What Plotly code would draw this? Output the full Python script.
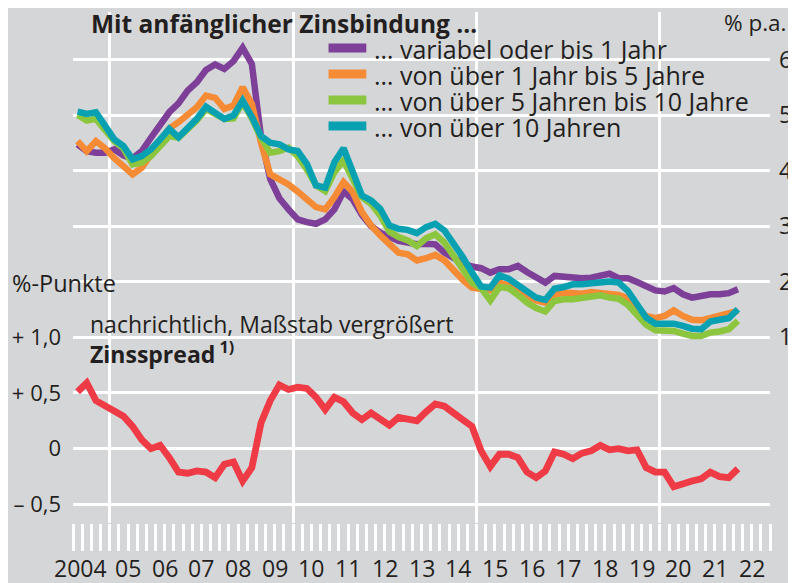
import plotly.graph_objects as go

# ---------------- data ----------------
start_year = 2004
n_quarters = 73  # 2004 Q1 ... 2022 Q1
year_labels = ["2004", "05", "06", "07", "08", "09", "10", "11", "12", "13",
               "14", "15", "16", "17", "18", "19", "20", "21", "22"]
years = list(range(2004, 2023))

series_names = ["… variabel oder bis 1 Jahr",
                "… von über 1 Jahr bis 5 Jahre",
                "… von über 5 Jahren bis 10 Jahre",
                "… von über 10 Jahren"]

variabel = [4.47, 4.35, 4.32, 4.32, 4.38, 4.27, 4.22, 4.35, 4.59, 4.84,
            5.05, 5.21, 5.44, 5.59, 5.81, 5.91, 5.83, 5.97, 6.21, 5.92,
            4.60, 3.85, 3.50, 3.30, 3.12, 3.07, 3.04, 3.12, 3.30, 3.62,
            3.48, 3.20, 3.00, 2.88, 2.80, 2.73, 2.70, 2.67, 2.68, 2.67,
            2.52, 2.42, 2.33, 2.27, 2.24, 2.16, 2.22, 2.22, 2.28, 2.17,
            2.08, 1.98, 2.10, 2.08, 2.06, 2.06, 2.07, 2.10, 2.14, 2.06,
            2.06, 1.99, 1.90, 1.84, 1.82, 1.88, 1.77, 1.71, 1.74, 1.77,
            1.77, 1.79, 1.86]

bis5 = [4.53, 4.35, 4.53, 4.40, 4.22, 4.08, 3.93, 4.05, 4.29, 4.56,
        4.76, 4.87, 4.99, 5.14, 5.35, 5.31, 5.11, 5.17, 5.50, 5.20,
        4.50, 3.93, 3.84, 3.75, 3.62, 3.47, 3.34, 3.30, 3.52, 3.79,
        3.61, 3.25, 3.01, 2.83, 2.66, 2.52, 2.49, 2.38, 2.42, 2.48,
        2.38, 2.20, 2.03, 1.89, 1.85, 1.84, 1.98, 1.93, 1.84, 1.74,
        1.66, 1.62, 1.76, 1.80, 1.79, 1.78, 1.81, 1.80, 1.78, 1.76,
        1.70, 1.50, 1.38, 1.34, 1.38, 1.48, 1.38, 1.31, 1.30, 1.34,
        1.36, 1.40, 1.47]

bis10 = [5.00, 4.90, 4.93, 4.71, 4.53, 4.40, 4.11, 4.14, 4.26, 4.44,
         4.62, 4.59, 4.75, 4.90, 5.11, 5.03, 4.93, 4.94, 5.23, 4.94,
         4.59, 4.32, 4.35, 4.41, 4.26, 4.02, 3.73, 3.63, 3.97, 4.18,
         3.85, 3.52, 3.40, 3.19, 2.90, 2.80, 2.74, 2.64, 2.78, 2.85,
         2.70, 2.46, 2.19, 1.98, 1.88, 1.66, 1.90, 1.88, 1.76, 1.62,
         1.52, 1.46, 1.65, 1.68, 1.68, 1.70, 1.72, 1.75, 1.71, 1.69,
         1.58, 1.40, 1.22, 1.12, 1.12, 1.11, 1.06, 1.02, 1.02, 1.08,
         1.10, 1.14, 1.29]

ueber10 = [5.06, 5.02, 5.05, 4.81, 4.56, 4.44, 4.20, 4.26, 4.38, 4.56,
           4.75, 4.60, 4.75, 4.93, 5.15, 5.05, 4.93, 4.99, 5.26, 4.97,
           4.62, 4.50, 4.47, 4.38, 4.35, 4.12, 3.73, 3.69, 4.15, 4.40,
           3.97, 3.55, 3.46, 3.31, 3.01, 2.95, 2.93, 2.87, 2.98, 3.04,
           2.92, 2.70, 2.44, 2.16, 1.91, 1.89, 2.11, 2.05, 1.94, 1.82,
           1.71, 1.67, 1.87, 1.90, 1.95, 1.95, 1.96, 1.98, 2.00, 1.98,
           1.83, 1.59, 1.35, 1.24, 1.25, 1.24, 1.20, 1.15, 1.14, 1.28,
           1.31, 1.34, 1.50]

spread = [0.51, 0.59, 0.43, 0.38, 0.34, 0.29, 0.20, 0.08, 0.00, 0.03,
          -0.08, -0.21, -0.22, -0.20, -0.21, -0.26, -0.14, -0.12, -0.29, -0.17,
          0.23, 0.43, 0.57, 0.53, 0.55, 0.54, 0.46, 0.35, 0.46, 0.42,
          0.32, 0.26, 0.32, 0.27, 0.21, 0.28, 0.26, 0.25, 0.33, 0.40,
          0.38, 0.31, 0.26, 0.20, -0.02, -0.16, -0.05, -0.05, -0.08, -0.21,
          -0.26, -0.20, -0.03, -0.05, -0.09, -0.04, -0.02, 0.03, -0.01, 0.00,
          -0.02, -0.01, -0.17, -0.21, -0.21, -0.34, -0.31, -0.29, -0.27, -0.21,
          -0.25, -0.26, -0.18]

rate_ticks = [1, 2, 3, 4, 5, 6]
spread_ticks = [-0.5, 0, 0.5, 1.0]
spread_ticktext = ["\u2013 0,5", "0", "+ 0,5", "+ 1,0"]

# quarter mid-points as decimal years
quarter_x = [start_year + (k + 0.5) / 4 for k in range(n_quarters)]
quarter_ticks = [start_year + q / 4 for q in range(4 * len(years) + 1)]

# ---------------- styling ----------------
BG = "#d5d6d8"
TXT = "#231f20"
FONT = "Open Sans"
colors = ["#7d3f98", "#f58b35", "#8cc63f", "#08a1b1"]
RED = "#ee3b45"

# page offset (browser body margin) and plot-area geometry in screen pixels
OFF = 8
PL, PR, PT, PB = 71, 772, 12, 523


def px(sx):
    return (sx - PL) / (PR - PL)


def py(sy):
    return (PB - sy) / (PB - PT)


fig = go.Figure()
for name, vals, col in zip(series_names, [variabel, bis5, bis10, ueber10], colors):
    fig.add_trace(go.Scatter(x=quarter_x, y=vals, name=name, mode="lines",
                             line=dict(color=col, width=6.5), yaxis="y",
                             showlegend=False, hoverinfo="skip"))
fig.add_trace(go.Scatter(x=quarter_x, y=spread, name="Zinsspread", mode="lines",
                         line=dict(color=RED, width=6.8), yaxis="y2",
                         showlegend=False, hoverinfo="skip"))

fig.update_layout(
    width=796 - OFF, height=583 - OFF,
    paper_bgcolor=BG, plot_bgcolor=BG,
    margin=dict(l=PL - OFF, r=796 - PR, t=PT - OFF, b=583 - PB),
    font=dict(family=FONT, color=TXT, size=23),
    showlegend=False,
    xaxis=dict(range=[2004, 2023], tickmode="array",
               tickvals=[2005, 2010, 2015, 2020],
               showgrid=True, gridcolor="white", gridwidth=2.5,
               ticks="outside", ticklen=27, tickwidth=2.5, tickcolor="white",
               showticklabels=False, zeroline=False, showline=False,
               minor=dict(tickvals=quarter_ticks, ticks="outside", ticklen=27,
                          tickwidth=2.5, tickcolor="white", showgrid=False)),
    yaxis=dict(range=[1 - (PB - 337) / 55.5, 1 + (337 - PT) / 55.5],
               side="right", tickmode="array",
               tickvals=rate_ticks, ticktext=[str(t) for t in rate_ticks],
               showgrid=True, gridcolor="white", gridwidth=2.5,
               zeroline=False, showline=False, ticks="",
               ticklabelstandoff=8, tickfont=dict(size=23)),
    yaxis2=dict(range=[1 - (PB - 337) / 111.67, 1 + (337 - PT) / 111.67],
                side="left", overlaying="y",
                tickmode="array", tickvals=spread_ticks, ticktext=spread_ticktext,
                showgrid=True, gridcolor="white", gridwidth=2.5,
                zeroline=False, showline=False, ticks="",
                ticklabelstandoff=11, tickfont=dict(size=22)),
)

shapes = []


def mask(x0, x1, y0, y1):
    shapes.append(dict(type="rect", xref="paper", yref="paper",
                       x0=px(x0), x1=px(x1), y0=py(y1), y1=py(y0),
                       fillcolor=BG, line=dict(width=0), layer="between"))


# masks behind texts (hide grid lines, like the original layout)
mask(84, 462, PT - 2, 43)       # title
mask(317, 680, 25, 69)          # legend row 1
mask(317, 722, 51, 95)          # legend row 2
mask(317, 765, 77, 122)         # legend row 3
mask(317, 632, 103, 147)        # legend row 4
mask(0, 121, 263, 297)          # %-Punkte
mask(80, 486, 303, 347)         # nachrichtlich ...
mask(80, 232, 340, 373)         # Zinsspread

ann = []
# legend (manual, to match the compact row spacing)
row_y = [48, 74, 100, 126]
for name, col, ry in zip(series_names, colors, row_y):
    shapes.append(dict(type="line", xref="paper", yref="paper",
                       x0=px(328), x1=px(366), y0=py(ry), y1=py(ry),
                       line=dict(color=col, width=9), layer="above"))
    ann.append(dict(text=name, x=px(372), y=py(ry + 1), xref="paper", yref="paper",
                    xanchor="left", yanchor="middle", showarrow=False,
                    font=dict(size=25)))

ann.append(dict(text="<b>Mit anfänglicher Zinsbindung …</b>", x=px(87), y=py(23),
                xref="paper", yref="paper", xanchor="left", yanchor="middle",
                showarrow=False, font=dict(size=24.5)))
ann.append(dict(text="% p.a.", x=px(791), y=py(22), xref="paper", yref="paper",
                xanchor="right", yanchor="middle", showarrow=False,
                font=dict(size=22.5)))
ann.append(dict(text="%-Punkte", x=px(8), y=py(283), xref="paper", yref="paper",
                xanchor="left", yanchor="middle", showarrow=False,
                font=dict(size=23.5)))
ann.append(dict(text="nachrichtlich, Maßstab vergrößert", x=px(86), y=py(324),
                xref="paper", yref="paper", xanchor="left", yanchor="middle",
                showarrow=False, font=dict(size=23)))
ann.append(dict(text="<b>Zinsspread<sup> 1)</sup></b>", x=px(86), y=py(353),
                xref="paper", yref="paper", xanchor="left", yanchor="middle",
                showarrow=False, font=dict(size=23)))

for yr, lab in zip(years, year_labels):
    if yr == 2004:
        ann.append(dict(text=lab, x=2005, y=py(568), xref="x", yref="paper",
                        xanchor="right", yanchor="middle", xshift=-1,
                        showarrow=False, font=dict(size=23)))
    else:
        ann.append(dict(text=lab, x=yr + 0.5, y=py(568), xref="x", yref="paper",
                        xanchor="center", yanchor="middle",
                        showarrow=False, font=dict(size=23)))

fig.update_layout(annotations=ann, shapes=shapes)
fig.write_html("out.html")
